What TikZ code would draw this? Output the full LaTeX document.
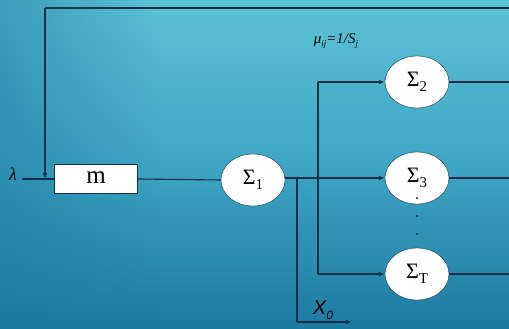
\documentclass[tikz,border=0pt]{standalone}
\usepackage{fontspec}
\setmainfont{Liberation Serif}
\newfontfamily\sansit{Liberation Sans}
\usetikzlibrary{arrows.meta,shapes.geometric,fadings}
\definecolor{bgtop}{RGB}{92,194,214}
\definecolor{bgmid}{RGB}{62,165,195}
\definecolor{bgbot}{RGB}{28,122,160}
\definecolor{ln}{RGB}{20,45,72}
\newcommand{\sg}[1]{Σ\raisebox{-5pt}{\fontsize{15}{15}\selectfont #1}}
\tikzset{
  sig/.style={draw=ln, fill=white, ellipse, minimum width=64pt, minimum height=52pt, inner sep=0pt, font=\fontsize{22}{22}\selectfont},
  conn/.style={draw=ln, line width=1.1pt},
  arr/.style={conn, -{Latex[length=6pt,width=4.5pt]}},
  mbox/.style={draw=ln, fill=white, minimum width=83pt, minimum height=29pt, inner sep=0pt, font=\fontsize{25}{25}\selectfont}
}
\begin{document}
\begin{tikzpicture}[x=1pt,y=-1pt]
\useasboundingbox (0,0) rectangle (509,329);
\shade[top color=bgtop, bottom color=bgbot, middle color=bgmid] (0,0) rectangle (509,329);
\shade[left color=bgbot, right color=bgbot, path fading=east, opacity=0.5] (0,0) rectangle (160,329);
% nodes
\node[mbox] (m) at (96,179) {\raisebox{2pt}{m}};
\node[sig] (s1) at (253,180) {\sg{1}};
\node[sig] (s2) at (417,82) {\sg{2}};
\node[sig] (s3) at (417,178) {\sg{3}};
\node[sig] (sT) at (417,274) {\sg{T}};
\node[font=\fontsize{18}{18}\selectfont\itshape] (lam) at (13,174) {λ};
\node[font=\fontsize{15}{15}\selectfont\itshape] (mu) at (336,41) {μ\raisebox{-3pt}{\fontsize{9}{9}\selectfont ij}=1/S\raisebox{-3pt}{\fontsize{9}{9}\selectfont j}};
\node[font=\fontsize{20}{20}\selectfont\sansit\itshape] (x0) at (323,310) {X\raisebox{-5pt}{\fontsize{12}{12}\selectfont 0}};
% coordinates
\coordinate (in) at (22,179);
\coordinate (fbtop) at (45,8);
\coordinate (fbr) at (509,8);
\coordinate (fbdown) at (45,179);
\coordinate (b1) at (297,178);
\coordinate (b1d) at (297,322);
\coordinate (xend) at (352,322);
\coordinate (vtop) at (318,82);
\coordinate (vbot) at (318,274);
\coordinate (o2) at (509,82);
\coordinate (o3) at (509,178);
\coordinate (oT) at (509,274);
% connectors
\draw[conn] (in) -- (m.west);
\draw[conn] (fbr) -- (fbtop);
\draw[arr] (fbtop) -- (fbdown);
\draw[conn] (m.east) -- (s1.west);
\draw[arr] (s1.east |- b1) -- (s3.west);
\draw[conn] (b1) -- (b1d);
\draw[arr] (b1d) -- (xend);
\draw[conn] (vtop) -- (vbot);
\draw[arr] (vtop) -- (s2.west);
\draw[arr] (vbot) -- (sT.west);
\draw[conn] (s2.east) -- (o2);
\draw[conn] (s3.east) -- (o3);
\draw[conn] (sT.east) -- (oT);
% dots
\fill[ln] (417,198) circle (1.1pt) (417,216) circle (1.1pt) (417,234) circle (1.1pt);
\end{tikzpicture}
\end{document}
